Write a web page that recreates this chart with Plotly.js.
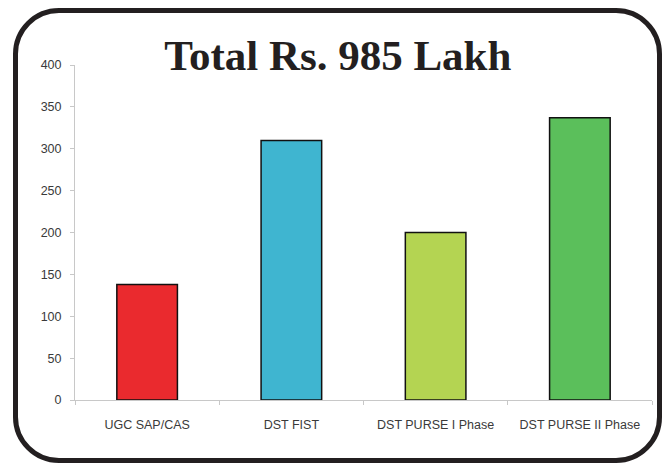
<!DOCTYPE html>
<html>
<head>
<meta charset="utf-8">
<script src="https://cdn.plot.ly/plotly-3.0.1.min.js"></script>
<style>
  html, body { margin: 0; padding: 0; background: #ffffff; }
  #wrap { position: relative; width: 665px; height: 465px; }
  #chart { position: absolute; left: 0; top: 0; width: 665px; height: 465px; }
  #frame {
    position: absolute; left: 13px; top: 8px; width: 639px; height: 445px;
    border: 5px solid #231f20; border-radius: 46px; pointer-events: none;
  }
</style>
</head>
<body>
<div id="wrap">
  <div id="chart"></div>
  <div id="frame"></div>
</div>
<script>
const categories = ["UGC SAP/CAS", "DST FIST", "DST PURSE I Phase", "DST PURSE II Phase"];
const values = [138, 310, 200, 337];
const barColors = ["#ea2a2e", "#3fb5d0", "#b4d452", "#5bbf5b"];
const yTicks = [0, 50, 100, 150, 200, 250, 300, 350, 400];
const titleText = "Total Rs. 985 Lakh";

const trace = {
  type: "bar",
  x: categories,
  y: values,
  marker: {
    color: barColors,
    line: { color: "#111111", width: 1.5 }
  },
  hoverinfo: "x+y"
};

const layout = {
  width: 665,
  height: 465,
  margin: { l: 75, r: 13, t: 65, b: 65 },
  paper_bgcolor: "#ffffff",
  plot_bgcolor: "#ffffff",
  showlegend: false,
  bargap: 0.58,
  title: {
    text: "<b>" + titleText + "</b>",
    font: { family: "Liberation Serif, Times New Roman, serif", size: 43, color: "#231f20" },
    x: 0.508, xanchor: "center", xref: "container",
    y: 0.882, yanchor: "middle", yref: "container"
  },
  xaxis: {
    type: "category",
    showline: true,
    linecolor: "#c8c8c8",
    linewidth: 1,
    ticks: "outside",
    tickson: "boundaries",
    ticklen: 4,
    tickcolor: "#c8c8c8",
    ticklabelstandoff: 13,
    tickfont: { family: "Liberation Sans Narrow, Liberation Sans, Arial, sans-serif", size: 12.5, color: "#3a3a3a" },
    showgrid: false,
    zeroline: false,
    fixedrange: true
  },
  yaxis: {
    range: [0, 400],
    tickvals: yTicks,
    ticktext: yTicks.map(String),
    showline: true,
    linecolor: "#c8c8c8",
    linewidth: 1,
    ticks: "outside",
    ticklen: 4,
    tickcolor: "#c8c8c8",
    ticklabelstandoff: 6,
    tickfont: { family: "Liberation Sans Narrow, Liberation Sans, Arial, sans-serif", size: 12.5, color: "#3a3a3a" },
    showgrid: false,
    zeroline: false,
    fixedrange: true
  }
};

Plotly.newPlot("chart", [trace], layout, { displayModeBar: false, staticPlot: true });
</script>
</body>
</html>
